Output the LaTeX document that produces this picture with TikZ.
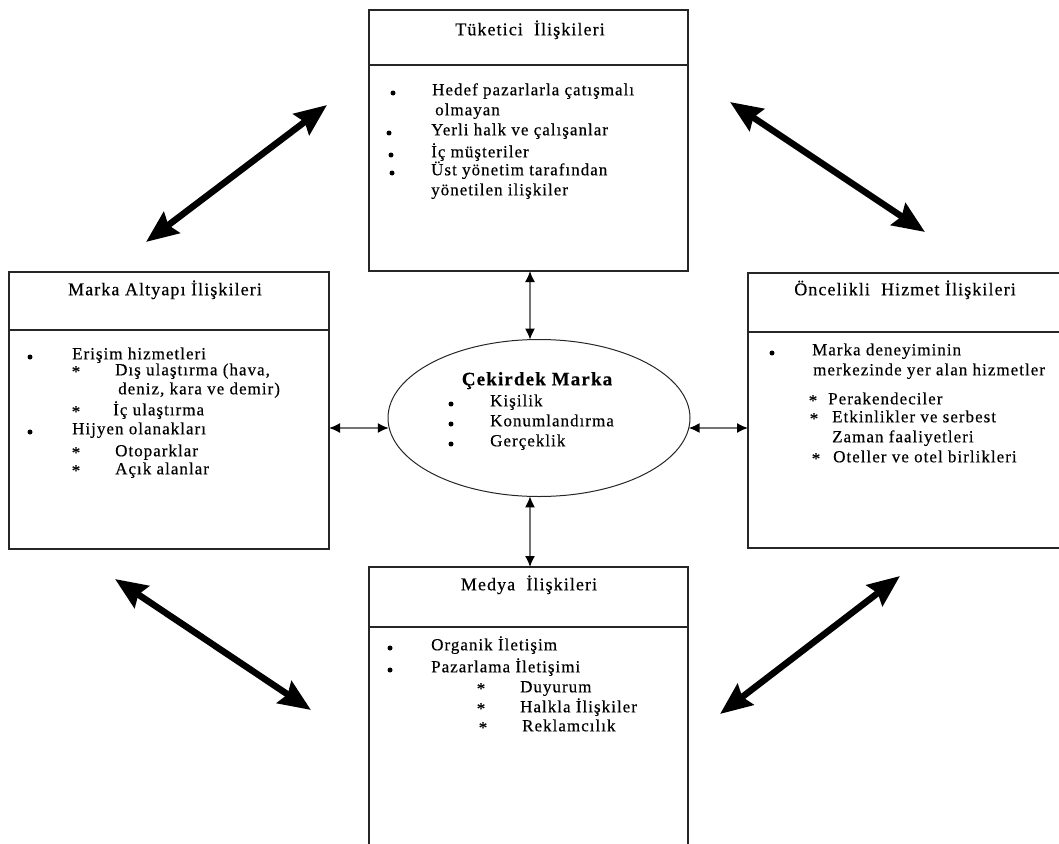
\documentclass[tikz,border=0pt]{standalone}
\usepackage{fontspec}
\setmainfont{Liberation Serif}[LetterSpace=6,FakeBold=0.4]
\usetikzlibrary{arrows.meta,shapes.geometric}

\begin{document}
\begin{tikzpicture}[x=1pt,y=-1pt,
  panel/.style={draw=black!85, line width=1.3pt, anchor=north west, inner sep=0pt, outer sep=0pt},
  divider/.style={draw=black!85, line width=1.3pt},
  heading/.style={font=\fontsize{18}{20}\selectfont, inner sep=0pt, anchor=mid},
  item/.style={font=\fontsize{17}{20}\selectfont, anchor=mid west, inner sep=0pt},
  dot/.style={font=\fontsize{17}{20}\selectfont, anchor=mid, inner sep=0pt},
  bul/.style={circle, fill=black, inner sep=0pt, minimum size=5pt},
  link/.style={draw=black!55, line width=1.5pt, {Latex[length=11pt,width=10pt,color=black]}-{Latex[length=11pt,width=10pt,color=black]}},
  bigarrow/.style={line width=6.5pt, {Stealth[length=32pt,width=26pt,inset=4pt]}-{Stealth[length=32pt,width=26pt,inset=4pt]}}
]
\clip (0,0) rectangle (1059,843);

% ---------- panels ----------
\node[panel, minimum width=319, minimum height=261] (tuk) at (369,10) {};
\draw[divider] (369,65) -- (688,65);
\node[panel, minimum width=320, minimum height=277] (alt) at (9,272) {};
\draw[divider] (9,330) -- (329,330);
\node[panel, minimum width=330, minimum height=275] (hiz) at (748,273) {};
\draw[divider] (748,332) -- (1078,332);
\node[panel, minimum width=319, minimum height=300] (med) at (369,567) {};
\draw[divider] (369,627) -- (688,627);

% ---------- core ellipse ----------
\node[ellipse, draw=black!85, line width=1pt, minimum width=302, minimum height=157, inner sep=0pt, outer sep=0pt] (core) at (539,418) {};
\node[font=\bfseries\fontsize{19}{20}\selectfont, anchor=mid, inner sep=0pt] (coret) at (537,383) {Çekirdek Marka};
\node[bul] (cb1) at (451,404) {};
\node[bul] (cb2) at (451,424) {};
\node[bul] (cb3) at (451,444) {};
\node[item] (c1) at (490,404) {Kişilik};
\node[item] (c2) at (490,424) {Konumlandırma};
\node[item] (c3) at (490,444) {Gerçeklik};

% ---------- Tüketici ----------
\node[heading] (tukt) at (530,33) {Tüketici\ \ İlişkileri};
\node[bul] (tb1) at (393,93) {};
\node[item] (t1) at (432,93) {Hedef pazarlarla çatışmalı};
\node[item] (t1b) at (435,113) {olmayan};
\node[bul] (tb2) at (389,133) {};
\node[item] (t2) at (431,133) {Yerli halk ve çalışanlar};
\node[bul] (tb3) at (391,155) {};
\node[item] (t3) at (431,155) {İç müşteriler};
\node[bul] (tb4) at (392,173) {};
\node[item] (t4) at (431,173) {Üst yönetim tarafından};
\node[item] (t4b) at (431,193) {yönetilen ilişkiler};

% ---------- Marka Altyapı ----------
\node[heading] (altt) at (165,293) {Marka Altyapı İlişkileri};
\node[bul] (ab1) at (30,357) {};
\node[item] (a1) at (72,357) {Erişim hizmetleri};
\node[dot] (as1) at (76,375) {*};
\node[item] (a11) at (115,373) {Dış ulaştırma (hava,};
\node[item] (a11b) at (118,392) {deniz, kara ve demir)};
\node[dot] (as2) at (76,415) {*};
\node[item] (a12) at (113,413) {İç ulaştırma};
\node[bul] (ab2) at (30,432) {};
\node[item] (a2) at (72,432) {Hijyen olanakları};
\node[dot] (as3) at (76,456) {*};
\node[item] (a21) at (115,454) {Otoparklar};
\node[dot] (as4) at (76,474) {*};
\node[item] (a22) at (115,472) {Açık alanlar};

% ---------- Öncelikli Hizmet ----------
\node[heading] (hizt) at (905,293) {Öncelikli\ \ Hizmet İlişkileri};
\node[bul] (hb1) at (772,353) {};
\node[item] (h1) at (812,353) {Marka deneyiminin};
\node[item] (h1b) at (813,373) {merkezinde yer alan hizmetler};
\node[dot] (hs1) at (813,404) {*};
\node[item] (h11) at (828,402) {Perakendeciler};
\node[dot] (hs2) at (814,422) {*};
\node[item] (h12) at (832,420) {Etkinlikler ve serbest};
\node[item] (h12b) at (832,440) {Zaman faaliyetleri};
\node[dot] (hs3) at (816,462) {*};
\node[item] (h13) at (833,460) {Oteller ve otel birlikleri};

% ---------- Medya ----------
\node[heading] (medt) at (529,588) {Medya\ \ İlişkileri};
\node[bul] (mb1) at (390,648) {};
\node[item] (m1) at (431,648) {Organik İletişim};
\node[bul] (mb2) at (390,670) {};
\node[item] (m2) at (431,670) {Pazarlama İletişimi};
\node[dot] (ms1) at (481,692) {*};
\node[item] (m21) at (520,690) {Duyurum};
\node[dot] (ms2) at (481,712) {*};
\node[item] (m22) at (520,710) {Halkla İlişkiler};
\node[dot] (ms3) at (483,731) {*};
\node[item] (m23) at (522,729) {Reklamcılık};

% ---------- links to the core ----------
\coordinate (row) at (0,428);
\coordinate (col) at (530,0);
\draw[link] (tuk.south -| col) -- (core.96.6 -| col);
\draw[link] (core.263.4 -| col) -- (med.north -| col);
\draw[link] (alt.east |- row) -- (core.183.8 |- row);
\draw[link] (core.356.2 |- row) -- (hiz.west |- row);

% ---------- corner arrows ----------
\coordinate (tlA) at (146,242);
\coordinate (tlB) at (327,105);
\coordinate (trA) at (730,102);
\coordinate (trB) at (925,232);
\coordinate (blA) at (115,579);
\coordinate (blB) at (311,710);
\coordinate (brA) at (720,714);
\coordinate (brB) at (900,576);
\draw[bigarrow] (tlA) -- (tlB);
\draw[bigarrow] (trA) -- (trB);
\draw[bigarrow] (blA) -- (blB);
\draw[bigarrow] (brA) -- (brB);
\end{tikzpicture}
\end{document}
